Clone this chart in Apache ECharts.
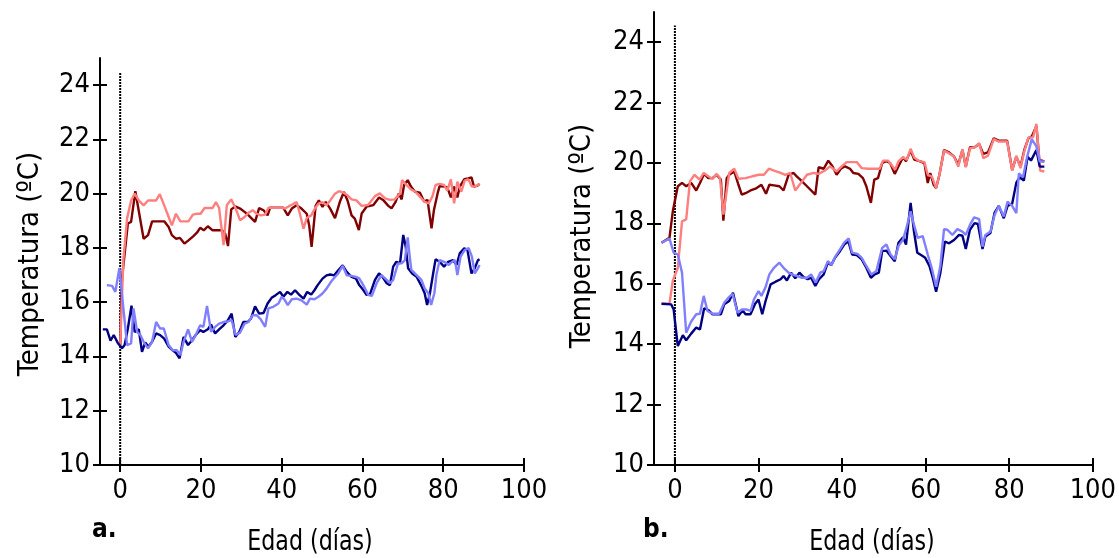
<!DOCTYPE html>
<html>
<head>
<meta charset="utf-8">
<script src="https://cdn.jsdelivr.net/npm/echarts@6/dist/echarts.min.js"></script>
<style>
  html, body { margin: 0; padding: 0; background: #fff; }
  #chart { width: 1119px; height: 558px; }
</style>
</head>
<body>
<div id="chart"></div>
<script>
// [día, temperatura] leídos de la figura
// panel a.
var aDarkRed = [[0,14.4],[0.4,16.8],[1.9,18.9],[2.7,18.96],[3.75,20.09],[5.8,18.34],[6.9,18.47],[7.9,18.98],[8.9,18.98],[9.9,18.98],[10.9,18.98],[12,18.77],[12.8,18.47],[13.8,18.34],[14.8,18.37],[15.9,18.16],[16.9,18.28],[18,18.42],[19,18.56],[19.8,18.74],[20.7,18.65],[21.7,18.8],[22.9,18.65],[24,18.65],[25.2,18.65],[26,18.53],[26.7,18.07],[27.5,19.42],[28.5,19.53],[29.7,19.45],[30.8,19.33],[31.8,19.2],[32.6,19.08],[33.4,18.96],[34.4,19.47],[35.5,19.39],[36.5,19.2],[37.1,19.48],[38.4,19.48],[39.6,19.48],[40.4,19.48],[41.5,19.2],[42.5,19.45],[43.7,19.57],[44.9,19.45],[46.2,19.26],[46.8,18.83],[47.4,18.04],[48.4,19.55],[49.2,19.75],[50.1,19.51],[50.9,19.7],[52,19.45],[53.2,19.1],[54.4,19.7],[55.4,20.06],[56.3,19.75],[57.3,19.2],[58.1,19.08],[59.1,18.66],[59.8,19.27],[61,19.52],[62.7,19.58],[64.1,19.86],[65.1,19.77],[66.4,19.55],[67.2,19.46],[68.2,19.7],[69,20.01],[69.7,19.79],[70.3,20.32],[71.2,20.5],[72,20.26],[73,20.07],[74.2,20.04],[75.3,19.7],[76.1,19.77],[77.1,18.72],[77.7,19.4],[78.6,20.01],[79.1,20.28],[80.2,20.26],[81,20.23],[81.9,19.86],[82.7,20.26],[83.5,19.86],[84.1,20.26],[85.2,20.53],[86.2,20.56],[87,20.6],[87.6,20.26],[88.5,20.3],[89,20.36]];
var aLightRed = [[0,14.4],[0.8,17.6],[1.7,19.08],[2.7,19.75],[3.6,20.0],[4.6,19.75],[5.8,19.57],[6.9,19.75],[7.9,19.75],[8.9,19.75],[9.8,19.98],[10.9,19.57],[12,19.14],[12.8,18.83],[13.8,19.26],[14.9,18.98],[15.9,18.98],[16.9,18.98],[18,19.23],[19,19.26],[19.9,19.26],[20.9,19.47],[21.9,19.47],[22.9,19.47],[23.7,19.69],[24.5,19.47],[25.6,18.1],[26.4,19.57],[27.5,19.79],[28.6,19.45],[29.7,19.02],[30.8,19.14],[31.8,19.3],[32.8,19.39],[33.8,19.26],[34.8,19.2],[35.9,19.23],[36.7,19.48],[37.9,19.48],[39.1,19.48],[40.2,19.48],[40.8,19.45],[41.7,19.53],[42.6,19.6],[43.7,19.69],[44.5,19.26],[45.4,18.71],[46.2,19.1],[47.3,19.2],[48.2,19.45],[49.1,19.63],[50.1,19.69],[51.1,19.57],[52,19.75],[53.2,20.0],[54.2,20.09],[55.2,20.04],[56.3,19.94],[57.3,19.79],[58.5,19.75],[59.8,19.55],[60.2,19.52],[61.4,19.58],[63.1,19.91],[64.3,20.01],[65.6,19.83],[66.8,19.77],[68,19.79],[69.3,20.01],[69.8,20.5],[70.9,20.32],[72,20.16],[73.1,20.07],[74.2,19.89],[75.4,19.7],[76.4,19.64],[77.3,19.89],[78.1,20.32],[79.1,20.36],[80.2,20.32],[81,20.11],[81.9,20.53],[82.7,19.64],[83.5,20.44],[84.5,20.07],[85.3,20.48],[86.2,20.53],[87.1,20.26],[88,20.28],[89,20.36]];
var aDarkBlue = [[-4.3,15.0],[-3.3,15.0],[-2.4,14.58],[-1.6,14.79],[-0.6,14.5],[0.45,14.3],[1.1,14.42],[1.9,15.03],[2.8,15.87],[3.6,14.9],[4.6,15.0],[5.4,14.17],[6.2,14.52],[7,14.36],[7.9,14.54],[8.9,14.85],[9.9,14.79],[10.9,14.66],[12,14.36],[13,14.23],[13.8,14.13],[14.7,13.93],[15.7,14.72],[16.8,14.42],[17.8,14.6],[18.7,14.79],[19.8,14.97],[20.6,14.9],[21.7,15.0],[22.5,15.18],[23.5,14.85],[24.5,15.0],[25.6,15.15],[26.7,15.34],[27.6,15.58],[28.5,14.72],[29.5,14.9],[30.5,15.27],[31.6,15.27],[32.4,15.4],[33.4,15.85],[34.4,15.58],[35.5,15.6],[36.5,15.95],[37.5,16.16],[38.5,16.26],[39.6,16.38],[40.4,16.2],[41.4,16.38],[42.3,16.28],[43.3,16.44],[44.3,16.28],[45.4,16.13],[46.3,16.38],[47.3,16.28],[48.1,16.44],[48.9,16.63],[50.1,16.87],[51.1,16.99],[52,17.02],[53,16.99],[54,17.18],[55.1,17.36],[56.1,17.12],[57.3,16.93],[58.4,16.87],[59.2,16.63],[60.2,16.45],[61,16.27],[61.8,16.27],[63.1,16.82],[64.1,17.06],[64.9,16.94],[66,16.7],[66.8,16.63],[67.6,17.31],[68.4,17.49],[69.3,17.43],[70.1,18.48],[70.7,18.05],[71.3,17.25],[72.3,17.06],[73.4,16.94],[74.5,16.63],[75.4,16.33],[76,15.9],[76.7,16.33],[77.5,17.06],[78.1,17.58],[79.1,17.49],[80.2,17.31],[81.2,17.49],[82.4,17.55],[83.3,17.37],[84.1,17.8],[85.2,17.99],[86,17.92],[87,17.06],[87.8,17.25],[88.6,17.55],[89,17.58]];
var aLightBlue = [[-3.3,16.63],[-2,16.6],[-1.2,16.38],[-0.2,17.26],[1.7,14.42],[2.7,14.48],[3.3,15.77],[4.2,14.9],[5,14.79],[5.8,14.54],[6.9,14.3],[7.9,14.54],[8.9,15.27],[9.9,15.03],[10.8,15.03],[12,14.42],[13,14.23],[14,14.23],[14.9,14.05],[15.7,14.54],[16.8,15.0],[17.8,14.54],[18.7,14.79],[19.8,15.15],[20.6,15.09],[21.5,15.86],[22.5,14.91],[23.5,15.09],[24.5,15.21],[25.6,15.27],[26.8,15.3],[27.6,15.34],[28.6,14.79],[29.7,14.88],[30.8,15.21],[31.8,15.27],[32.8,15.52],[33.8,15.52],[34.8,15.37],[35.9,15.09],[36.7,15.77],[37.9,15.83],[39.2,15.95],[40,16.2],[40.8,16.07],[41.5,15.89],[42.5,16.11],[43.7,16.13],[44.9,16.07],[46.2,15.91],[47,16.13],[48.1,16.11],[49.1,16.2],[50.1,16.32],[51.1,16.5],[52.2,16.75],[53.2,16.93],[54,17.06],[55.1,17.34],[56.1,16.99],[57.3,16.97],[58.4,16.93],[59.2,16.88],[60.2,16.63],[61.4,16.27],[62.3,16.23],[63.5,16.7],[64.7,17.0],[65.6,16.88],[66.8,16.7],[67.6,16.82],[68.8,17.43],[69.7,17.43],[70.5,17.55],[71.2,18.39],[71.7,17.68],[72.1,17.19],[73.4,17.0],[74.6,16.82],[75.4,16.51],[76.3,16.33],[77,15.9],[77.8,16.33],[78.3,17.0],[79.1,17.55],[80.2,17.49],[81.4,17.37],[82.2,17.49],[82.9,17.55],[83.5,17.0],[84.3,17.68],[85.3,17.92],[86.3,17.99],[87.1,17.68],[87.8,17.06],[88.6,17.25],[89,17.37]];

// panel b.
var bDarkRed = [[-3.2,17.36],[-1.3,17.52],[-0.5,18.4],[0.7,19.23],[1.7,19.34],[2.7,19.23],[3.9,19.34],[5.1,19.09],[6,19.34],[7,19.64],[8,19.5],[9,19.5],[10,19.61],[11,19.45],[11.6,18.09],[12.4,19.5],[13,19.61],[14.2,19.72],[15.2,19.28],[16,18.95],[16.9,19.0],[18.1,19.09],[19.3,19.15],[20.7,19.28],[21.8,18.98],[22.6,19.28],[23.7,19.26],[25,19.23],[26,19.09],[27.2,19.61],[28.4,19.67],[29.2,19.55],[30,19.45],[31.6,19.23],[33.6,18.95],[34.4,19.86],[35.6,19.81],[36.7,20.08],[37.7,19.89],[38.7,19.61],[39.7,19.81],[40.7,19.89],[41.9,19.81],[42.7,19.67],[43.9,19.64],[45,19.5],[45.8,19.23],[46.9,18.68],[47.7,19.45],[48.6,19.5],[49.6,20.0],[50.6,20.06],[51.5,20.0],[52.6,19.64],[53.5,19.89],[54.6,20.19],[55.3,20.06],[56.4,20.41],[57.3,20.11],[58.5,20.06],[59.7,20.0],[60.5,19.34],[61.1,19.67],[61.9,19.28],[62.5,19.17],[63.3,19.61],[64.4,20.43],[65.6,20.35],[66.8,20.21],[67.8,19.94],[68.8,20.43],[69.6,19.88],[70.6,20.52],[71.7,20.52],[72.8,20.63],[73.8,20.3],[74.9,20.35],[76.3,20.82],[77.5,20.74],[79.5,20.74],[80.7,19.77],[81.7,20.21],[82.7,19.88],[83.6,20.43],[84.6,20.82],[85.4,20.88],[86.5,21.23],[87.2,20.1],[88.4,20.05]];
var bLightRed = [[-3.2,15.34],[-1.3,15.34],[-0.5,16.1],[0.7,16.53],[1.7,18.07],[2.7,18.13],[3.6,19.39],[4.7,19.61],[5.9,19.45],[6.9,19.67],[8,19.56],[9,19.47],[10,19.64],[10.8,19.5],[11.6,18.29],[13,19.67],[14.2,19.81],[15.2,19.48],[16.9,19.5],[18.5,19.56],[20.1,19.61],[21.3,19.61],[22.5,19.81],[23.7,19.75],[25.3,19.67],[26.4,19.61],[27.6,19.67],[28.8,19.09],[30,19.31],[31.6,19.61],[33.2,19.67],[34.4,19.64],[35.9,19.75],[37.1,19.89],[38.7,19.72],[39.9,19.89],[41.1,20.03],[42.3,20.03],[43.5,20.03],[44.7,19.83],[46.2,19.81],[47.8,19.81],[49,19.81],[49.8,20.08],[51,20.08],[51.8,19.94],[52.7,19.78],[53.5,20.06],[54.6,20.19],[55.5,20.11],[56.4,20.47],[57.3,20.17],[58.5,20.06],[59.7,20.03],[60.5,19.61],[61.5,19.55],[62.5,19.17],[63.3,19.61],[64.4,20.41],[65.6,20.32],[66.8,20.21],[67.8,19.88],[68.8,20.46],[69.6,19.86],[70.6,20.49],[71.7,20.52],[72.8,20.66],[73.8,20.16],[74.9,20.24],[76.3,20.79],[77.5,20.71],[79.5,20.71],[80.7,19.75],[81.7,20.24],[82.7,19.83],[83.6,20.38],[84.6,20.85],[85.7,20.85],[86.5,21.3],[87.4,19.75],[88.4,19.72]];
var bDarkBlue = [[-3.2,15.34],[-0.9,15.32],[-0.3,15.15],[0.7,13.94],[1.9,14.3],[2.7,14.13],[3.9,14.35],[5.1,14.55],[6,14.49],[7,15.19],[8.1,15.12],[9,14.99],[10,14.99],[11,14.99],[11.8,15.32],[13,15.43],[13.9,15.7],[15.2,14.93],[16.2,15.12],[16.9,14.99],[18.1,14.99],[19.2,15.34],[20,15.48],[20.9,14.99],[21.7,15.43],[22.9,15.98],[24.1,16.07],[25.3,16.15],[26,16.26],[26.8,16.11],[27.8,16.37],[28.8,16.18],[29.8,16.37],[30.8,16.22],[31.8,16.15],[32.6,16.2],[33.6,15.93],[34.5,16.15],[35.6,16.31],[36.6,16.7],[37.4,16.62],[38.3,16.86],[39.5,17.08],[40.5,17.3],[41.5,17.41],[42.4,16.97],[43.5,16.95],[44.7,16.81],[45.8,16.53],[46.9,16.2],[47.8,16.31],[48.8,16.37],[49.6,17.08],[50.6,17.1],[51.6,16.92],[52.6,16.75],[53.5,17.36],[54.6,17.54],[55.3,17.3],[56.4,18.68],[57.2,17.74],[58,17.03],[58.9,16.95],[59.9,16.86],[60.9,16.59],[61.7,16.2],[62.5,15.74],[63.5,16.35],[64.6,17.4],[65.6,17.34],[66.8,17.45],[68,17.62],[68.8,17.59],[69.6,17.15],[70.6,17.79],[71.7,18.01],[72.5,17.98],[73.6,17.15],[74.3,17.57],[75.5,17.68],[76.5,18.36],[77.5,18.58],[78.7,18.17],[79.6,18.58],[80.7,18.65],[81.7,19.35],[82.5,19.53],[83.5,19.42],[84.4,20.21],[85.2,20.08],[86.5,20.43],[87.3,19.88],[88.4,19.88]];
var bLightBlue = [[-3.2,17.36],[-1.3,17.5],[-0.3,17.03],[0.7,16.97],[1.7,16.37],[2.7,14.38],[3.9,14.75],[5.1,14.99],[6,15.01],[6.9,15.6],[7.8,15.1],[9,15.01],[10.6,15.01],[11.8,15.37],[12.8,15.54],[13.8,15.67],[15,15.04],[16,15.15],[17.1,15.15],[18.1,15.1],[18.9,15.48],[20,15.76],[20.7,15.6],[21.7,15.89],[22.6,16.31],[23.7,16.53],[25,16.7],[26,16.53],[27.2,16.37],[28.4,16.29],[29.2,16.26],[30.4,16.2],[31.6,16.2],[32.6,16.31],[33.7,16.04],[34.8,16.37],[35.6,16.42],[36.6,16.75],[37.5,16.62],[38.3,16.88],[39.5,17.14],[40.5,17.36],[41.6,17.5],[42.4,17.03],[43.7,16.99],[44.7,16.86],[45.8,16.59],[47,16.31],[48.2,16.42],[49.6,17.19],[50.6,17.3],[51.6,16.97],[52.6,16.81],[53.5,17.25],[54.6,17.47],[55.3,17.8],[56.4,18.4],[57.2,17.96],[58.1,17.52],[59.3,17.58],[60.5,16.97],[61.5,16.5],[62.5,15.9],[63.5,16.57],[64.4,17.81],[65.2,17.79],[66.4,17.62],[67.6,17.81],[68.8,17.73],[69.6,17.62],[70.6,17.95],[71.6,18.2],[72.8,18.14],[73.6,17.23],[74.3,17.62],[75.5,17.73],[76.5,18.28],[77.5,18.58],[78.7,18.23],[79.6,18.72],[80.7,18.58],[81.7,18.34],[82.3,19.66],[83.3,19.53],[84.2,20.16],[85.4,20.79],[86.5,20.55],[87.3,20.05],[88.4,20.05]];

var xTicks = [0, 20, 40, 60, 80, 100];
var yTicks = [10, 12, 14, 16, 18, 20, 22, 24];
var markA = 24.45; // tope de la línea punteada en día 0
var markB = 24.55;

var font = "'Liberation Sans Narrow', 'DejaVu Sans Condensed', 'Liberation Sans', sans-serif";

var chart = echarts.init(document.getElementById('chart'), null, { renderer: 'canvas' });

function xAx(grid, inner) {
  return {
    type: 'value', gridIndex: grid, min: -5, max: 100, position: 'bottom',
    splitLine: { show: false },
    axisLine: { show: !inner, onZero: false, lineStyle: { color: '#000', width: 2 } },
    axisTick: { show: true, inside: inner, length: 7, customValues: xTicks, lineStyle: { color: '#000', width: 2 } },
    axisLabel: { show: !inner, customValues: xTicks, fontSize: 27, fontFamily: font, color: '#000', margin: 12 }
  };
}
function yAx(grid, inner) {
  return {
    type: 'value', gridIndex: grid, min: 10, max: 25, position: 'left',
    splitLine: { show: false },
    axisLine: { show: !inner, onZero: false, lineStyle: { color: '#000', width: 2 } },
    axisTick: { show: true, inside: inner, length: 7, customValues: yTicks, lineStyle: { color: '#000', width: 2 } },
    axisLabel: { show: !inner, customValues: yTicks, fontSize: 27, fontFamily: font, color: '#000', margin: 10 }
  };
}
function serie(data, color, idx) {
  return {
    type: 'line', data: data, xAxisIndex: idx * 2, yAxisIndex: idx * 2,
    symbol: 'none', showSymbol: false, animation: false,
    lineStyle: { color: color, width: 2.4 }, itemStyle: { color: color }
  };
}
function dotted(top, idx) {
  return {
    type: 'line', data: [[0, 10], [0, top]], xAxisIndex: idx * 2, yAxisIndex: idx * 2,
    symbol: 'none', animation: false, z: 1,
    lineStyle: { color: '#000', width: 2, type: [2, 1] }
  };
}
function label(txt, x, y, size, rot, sx) {
  return {
    type: 'text', x: x, y: y, rotation: rot, scaleX: sx,
    style: { text: txt, font: size + 'px ' + font, fill: '#000', textAlign: 'center', textVerticalAlign: 'middle' }
  };
}

var option = {
  backgroundColor: '#fff',
  animation: false,
  grid: [
    { left: 100, right: 595, top: 58, bottom: 93 },
    { left: 654, right: 24, top: 12, bottom: 93 }
  ],
  xAxis: [xAx(0, false), xAx(0, true), xAx(1, false), xAx(1, true)],
  yAxis: [yAx(0, false), yAx(0, true), yAx(1, false), yAx(1, true)],
  series: [
    dotted(markA, 0),
    serie(aDarkRed, '#800000', 0),
    serie(aLightRed, '#ff7f7f', 0),
    serie(aDarkBlue, '#000080', 0),
    serie(aLightBlue, '#7f7fff', 0),
    dotted(markB, 1),
    serie(bDarkRed, '#800000', 1),
    serie(bLightRed, '#ff7f7f', 1),
    serie(bDarkBlue, '#000080', 1),
    serie(bLightBlue, '#7f7fff', 1)
  ],
  graphic: [
    label('Temperatura (ºC)', 30, 264, 29, Math.PI / 2, 1),
    label('Edad (días)', 310, 543, 28, 0, 0.88),
    label('Temperatura (ºC)', 582, 236, 29, Math.PI / 2, 1),
    label('Edad (días)', 872, 543, 28, 0, 0.88),
    { type: 'text', x: 92, y: 530,
      style: { text: 'a.', font: 'bold 26px ' + font, fill: '#000', textAlign: 'left', textVerticalAlign: 'middle' } },
    { type: 'text', x: 643, y: 530,
      style: { text: 'b.', font: 'bold 26px ' + font, fill: '#000', textAlign: 'left', textVerticalAlign: 'middle' } }
  ]
};

chart.setOption(option);
</script>
</body>
</html>
